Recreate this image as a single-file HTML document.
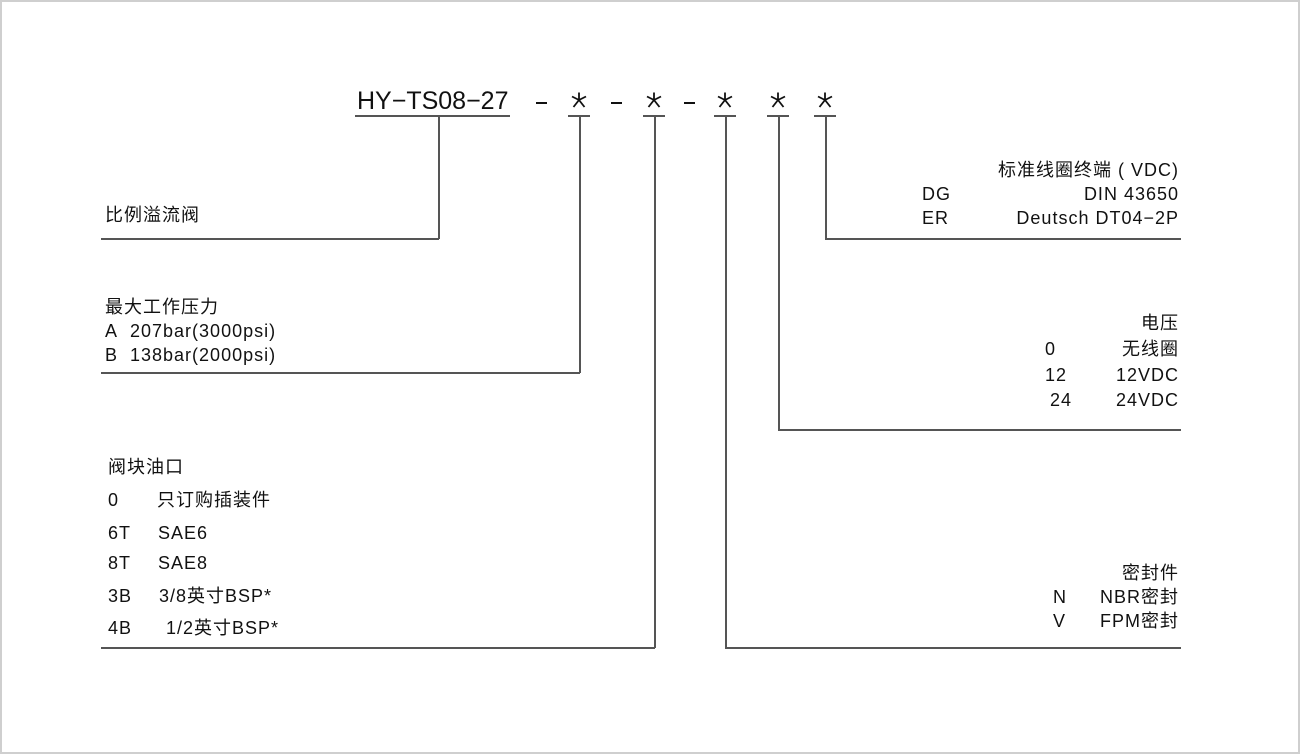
<!DOCTYPE html>
<html><head><meta charset="utf-8"><style>
html,body{margin:0;padding:0}
body{width:1300px;height:754px;position:relative;background:#fff;overflow:hidden;font-family:"Liberation Sans","Noto Sans CJK SC",sans-serif;color:#111}
.frame{position:absolute;left:0;top:0;width:1296px;height:750px;border:2px solid #cfcfcf}
.t{position:absolute;font-size:18px;line-height:24px;white-space:nowrap;letter-spacing:1px}
.r{text-align:right}
.h{position:absolute;height:1.5px;background:#555}
.v{position:absolute;width:1.5px;background:#555}
.d{position:absolute;height:2px;width:11px;background:#111;top:102px}
</style></head><body>
<div class="frame"></div>

<div class="t" style="left:357px;top:86px;font-size:25px;line-height:30px;letter-spacing:0">HY−TS08−27</div>
<div class="d" style="left:536px"></div>
<div class="d" style="left:611px"></div>
<div class="d" style="left:684px"></div>
<svg style="position:absolute;left:0;top:0" width="1300" height="754">
<defs><g id="s" stroke="#111" stroke-width="1.8" fill="none">
<line x1="0" y1="-7.5" x2="0" y2="0"/>
<line x1="0" y1="0" x2="-7" y2="-3.5"/>
<line x1="0" y1="0" x2="7" y2="-3.5"/>
<line x1="0" y1="0" x2="-5.5" y2="7"/>
<line x1="0" y1="0" x2="5.5" y2="7"/>
</g></defs>
<use href="#s" x="579" y="100"/>
<use href="#s" x="654" y="100"/>
<use href="#s" x="725" y="100"/>
<use href="#s" x="778" y="100"/>
<use href="#s" x="825" y="100"/>
</svg>

<div class="h" style="left:355px;top:115px;width:155px"></div>
<div class="v" style="left:438px;top:115px;height:124px"></div>
<div class="h" style="left:101px;top:238px;width:338px"></div>

<div class="h" style="left:568px;top:115px;width:22px"></div>
<div class="v" style="left:579px;top:115px;height:258px"></div>
<div class="h" style="left:101px;top:372px;width:479px"></div>

<div class="h" style="left:643px;top:115px;width:22px"></div>
<div class="v" style="left:654px;top:115px;height:533px"></div>
<div class="h" style="left:101px;top:647px;width:554px"></div>

<div class="h" style="left:714px;top:115px;width:22px"></div>
<div class="v" style="left:725px;top:115px;height:533px"></div>
<div class="h" style="left:725px;top:647px;width:456px"></div>

<div class="h" style="left:767px;top:115px;width:22px"></div>
<div class="v" style="left:778px;top:115px;height:315px"></div>
<div class="h" style="left:778px;top:429px;width:403px"></div>

<div class="h" style="left:814px;top:115px;width:22px"></div>
<div class="v" style="left:825px;top:115px;height:124px"></div>
<div class="h" style="left:825px;top:238px;width:356px"></div>

<div class="t" style="left:105px;top:203px">比例溢流阀</div>
<div class="t" style="left:105px;top:295px">最大工作压力</div>
<div class="t" style="left:105px;top:319px">A&nbsp; 207bar(3000psi)</div>
<div class="t" style="left:105px;top:343px">B&nbsp; 138bar(2000psi)</div>

<div class="t" style="left:108px;top:455px">阀块油口</div>
<div class="t" style="left:108px;top:488px">0</div><div class="t" style="left:157px;top:488px">只订购插装件</div>
<div class="t" style="left:108px;top:521px">6T</div><div class="t" style="left:158px;top:521px">SAE6</div>
<div class="t" style="left:108px;top:551px">8T</div><div class="t" style="left:158px;top:551px">SAE8</div>
<div class="t" style="left:108px;top:584px">3B</div><div class="t" style="left:159px;top:584px">3/8英寸BSP*</div>
<div class="t" style="left:108px;top:616px">4B</div><div class="t" style="left:166px;top:616px">1/2英寸BSP*</div>

<div class="t r" style="right:121px;top:158px">标准线圈终端 ( VDC)</div>
<div class="t" style="left:922px;top:182px">DG</div>
<div class="t r" style="right:121px;top:182px">DIN 43650</div>
<div class="t" style="left:922px;top:206px">ER</div>
<div class="t r" style="right:121px;top:206px">Deutsch DT04−2P</div>

<div class="t r" style="right:121px;top:311px">电压</div>
<div class="t" style="left:1045px;top:337px">0</div><div class="t r" style="right:121px;top:337px">无线圈</div>
<div class="t" style="left:1045px;top:363px">12</div><div class="t r" style="right:121px;top:363px">12VDC</div>
<div class="t" style="left:1050px;top:388px">24</div><div class="t r" style="right:121px;top:388px">24VDC</div>

<div class="t r" style="right:121px;top:561px">密封件</div>
<div class="t" style="left:1053px;top:585px">N</div><div class="t r" style="right:121px;top:585px">NBR密封</div>
<div class="t" style="left:1053px;top:609px">V</div><div class="t r" style="right:121px;top:609px">FPM密封</div>
</body></html>
